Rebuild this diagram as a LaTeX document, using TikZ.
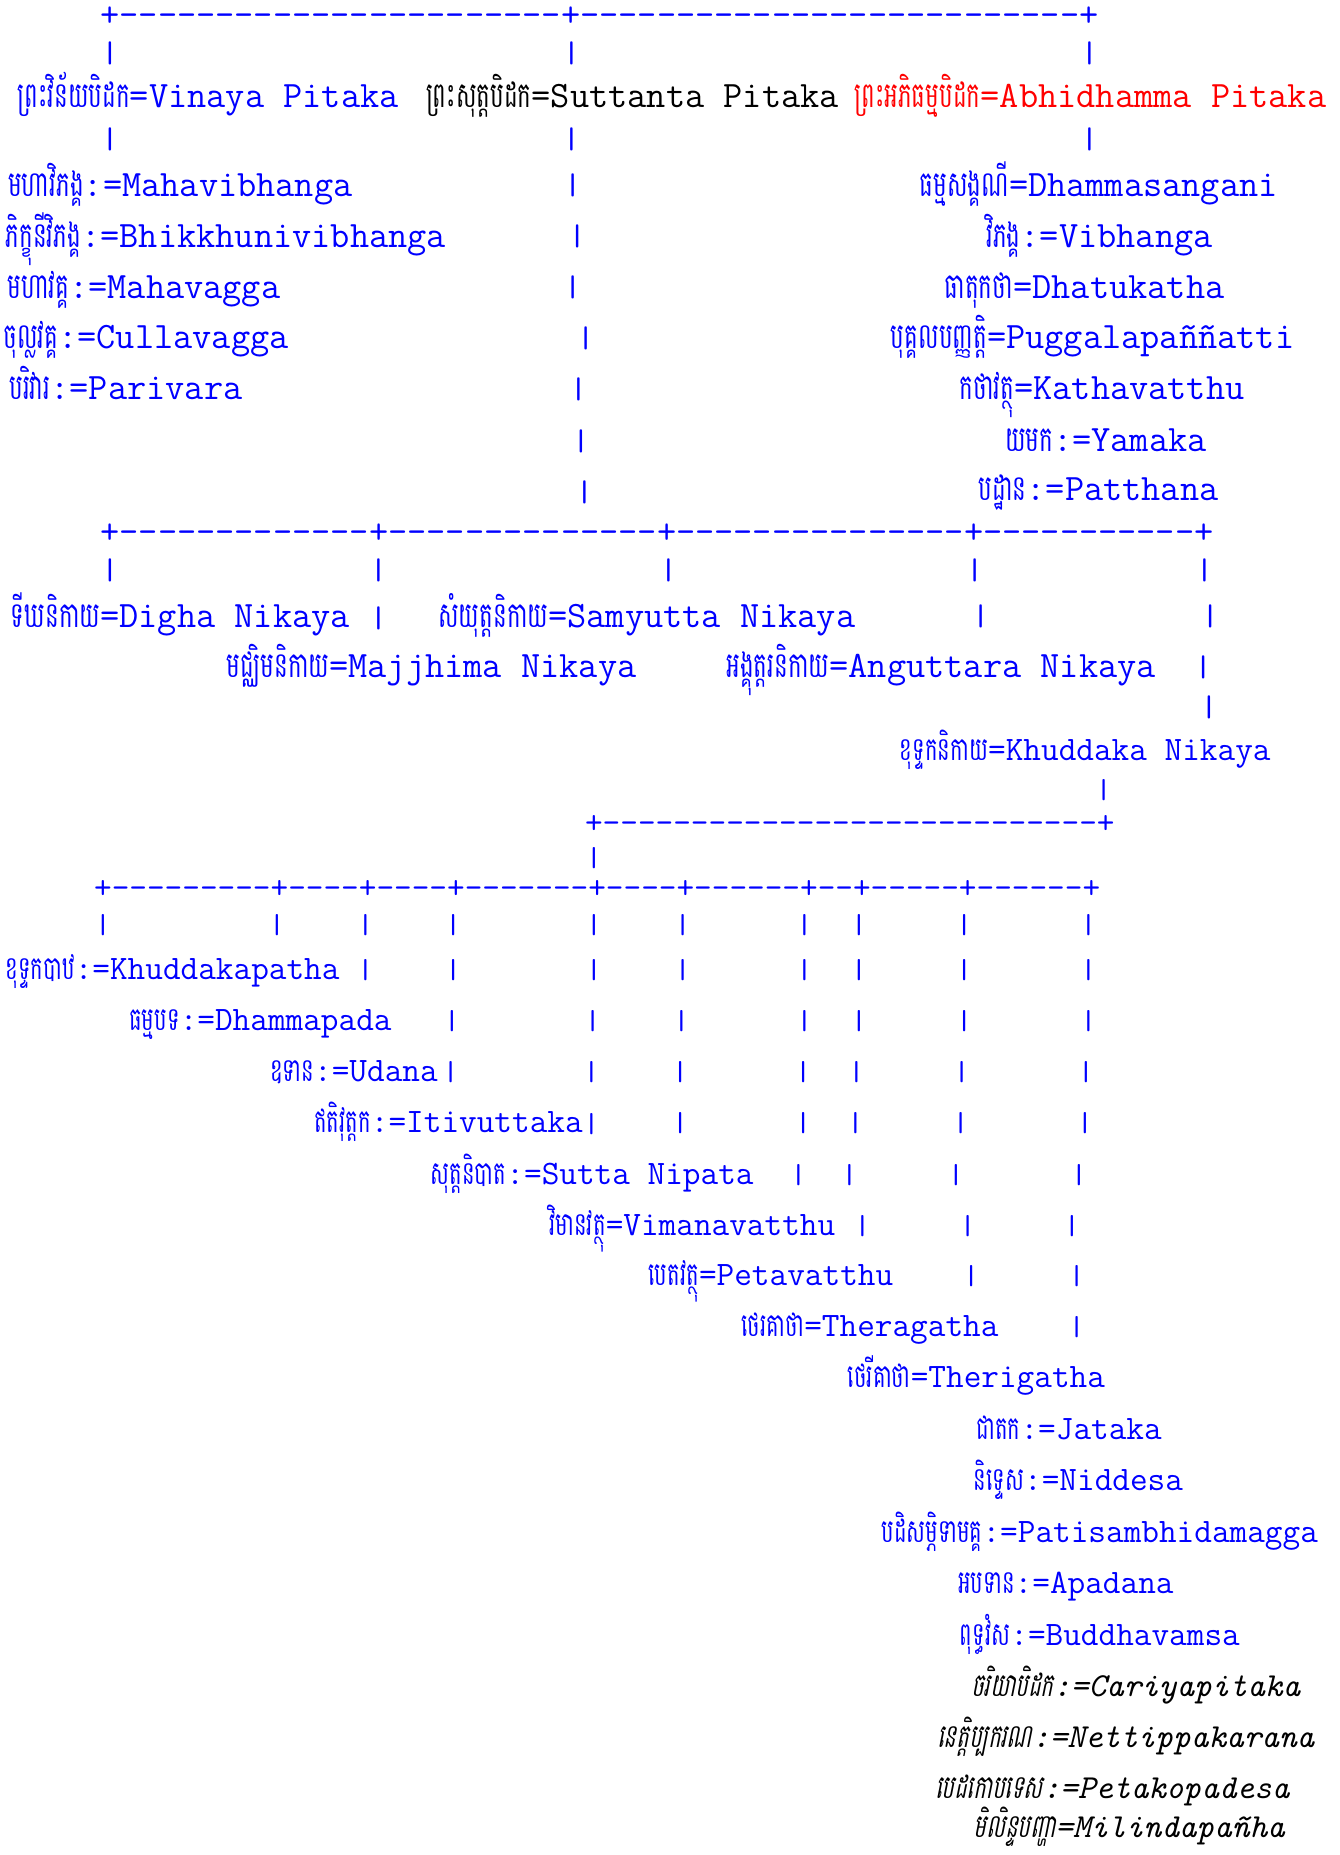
\documentclass[tikz,border=0pt]{standalone}
\usepackage{fontspec}
\usepackage{graphicx}
\newfontfamily\km[Script=Khmer,FakeStretch=0.65]{Battambang}
\newfontfamily\kmi[Script=Khmer,FakeStretch=0.65,FakeSlant=0.2]{Battambang}
\definecolor{kblue}{RGB}{0,0,255}
\definecolor{kred}{RGB}{255,0,0}
\newcommand\dd[1]{\ifnum#1>0 -\kern0pt\expandafter\dd\expandafter{\the\numexpr#1-1\relax}\fi}
\newcommand\vbar{\scalebox{1}[0.8]{|}}
\tikzset{
  every node/.style={inner sep=0pt,outer sep=0pt},
  lt/.style={font=\fontsize{31.5}{36}\selectfont\ttfamily},
  ls/.style={font=\fontsize{28.97}{34}\selectfont\ttfamily},
  li/.style={font=\fontsize{28.4}{34}\selectfont\ttfamily\itshape},
  kt/.style={font=\fontsize{30}{36}\selectfont\km},
  ks/.style={font=\fontsize{27.5}{34}\selectfont\km},
  ki/.style={font=\fontsize{27.5}{34}\selectfont\kmi},
  bl/.style={text=kblue},
  rd/.style={text=kred},
  bk/.style={text=black},
}
\newcommand\lab[7]{%
  \node[#4,anchor=base east] (#1l) at (#2,#3) {#7};
  \node[#5,anchor=base east] (#1k) at (#1l.base west) {#6};}
\newcommand\vb[4]{\node[#4,anchor=center] (#1) at (#2,#3) {\vbar};}
\begin{document}
\begin{tikzpicture}[x=1pt,y=-1pt]
\fill[white] (0,0) rectangle (1132,1568);
\useasboundingbox (0,0) rectangle (1132,1568);
% ---- top level
\node[lt,bl,anchor=west] (h1) at (84.9,14) {+\dd{23}+\dd{26}+};
\vb{a1}{93}{45}{lt,bl}\vb{a2}{483}{45}{lt,bl}\vb{a3}{921}{45}{lt,bl}
\lab{vin}{337}{91}{lt,bl}{kt,bl}{ព្រះវិន័យបិដក}{=Vinaya Pitaka}
\lab{sut}{709}{91}{lt,bk}{kt,bk}{ព្រះសុត្តបិដក}{=Suttanta Pitaka}
\lab{abh}{1121}{91}{lt,rd}{kt,rd}{ព្រះអភិធម្មបិដក}{=Abhidhamma Pitaka}
\vb{b1}{93}{118}{lt,bl}\vb{b2}{483}{118}{lt,bl}\vb{b3}{921}{118}{lt,bl}
% ---- Vinaya / Abhidhamma lists
\lab{mvb}{298}{166}{lt,bl}{kt,bl}{មហាវិភង្គ}{:=Mahavibhanga}
\vb{c5}{484}{157}{lt,bl}
\lab{dhs}{1080}{166}{lt,bl}{kt,bl}{ធម្មសង្គណី}{=Dhammasangani}
\lab{bvb}{377}{209}{lt,bl}{kt,bl}{ភិក្ខុនីវិភង្គ}{:=Bhikkhunivibhanga}
\vb{c6}{488}{200}{lt,bl}
\lab{vbh}{1025}{209}{lt,bl}{kt,bl}{វិភង្គ}{:=Vibhanga}
\lab{mvg}{237}{252}{lt,bl}{kt,bl}{មហាវគ្គ}{:=Mahavagga}
\vb{c7}{484}{243}{lt,bl}
\lab{dhk}{1035}{252}{lt,bl}{kt,bl}{ធាតុកថា}{=Dhatukatha}
\lab{cvg}{244}{295}{lt,bl}{kt,bl}{ចុល្លវគ្គ}{:=Cullavagga}
\vb{c8}{495}{286}{lt,bl}
\lab{pug}{1094}{295}{lt,bl}{kt,bl}{បុគ្គលបញ្ញត្តិ}{=Puggalapaññatti}
\lab{par}{205}{338}{lt,bl}{kt,bl}{បរិវារ}{:=Parivara}
\vb{c9}{489}{329}{lt,bl}
\lab{kvt}{1052}{338}{lt,bl}{kt,bl}{កថាវត្ថុ}{=Kathavatthu}
\vb{c10}{491}{373}{lt,bl}
\lab{yam}{1020}{382}{lt,bl}{kt,bl}{យមក}{:=Yamaka}
\vb{c11}{494}{416}{lt,bl}
\lab{pat}{1030}{423}{lt,bl}{kt,bl}{បដ្ឋាន}{:=Patthana}
% ---- Nikayas
\node[lt,bl,anchor=west] (h2) at (84.9,451) {+\dd{13}+\dd{14}+\dd{15}+\dd{11}+};
\vb{d1}{93}{482}{lt,bl}\vb{d2}{320}{482}{lt,bl}\vb{d3}{565}{482}{lt,bl}\vb{d4}{824}{482}{lt,bl}\vb{d5}{1018}{482}{lt,bl}
\lab{dig}{328.1}{530}{lt,bl}{kt,bl}{ទីឃនិកាយ}{=Digha Nikaya \vbar}
\lab{sam}{723}{530}{lt,bl}{kt,bl}{សំយុត្តនិកាយ}{=Samyutta Nikaya}
\vb{e1}{829}{521}{lt,bl}\vb{e2}{1023}{521}{lt,bl}
\lab{maj}{538}{573}{lt,bl}{kt,bl}{មជ្ឈិមនិកាយ}{=Majjhima Nikaya}
\lab{ang}{977}{573}{lt,bl}{kt,bl}{អង្គុត្តរនិកាយ}{=Anguttara Nikaya}
\vb{f1}{1017}{564}{lt,bl}
\vb{g1}{1022}{598}{lt,bl}
\lab{khn}{1074}{643}{ls,bl}{ks,bl}{ខុទ្ទកនិកាយ}{=Khuddaka Nikaya}
\vb{i1}{933}{668}{ls,bl}
\node[ls,bl,anchor=west] (h3) at (494.55,697) {+\dd{28}+};
\vb{j1}{502}{725}{ls,bl}
\node[ls,bl,anchor=west] (h4) at (79.55,752) {+\dd{9}+\dd{4}+\dd{4}+\dd{7}+\dd{4}+\dd{6}+\dd{2}+\dd{5}+\dd{6}+};
% ---- Khuddaka books
\foreach \x [count=\i] in {87,234,309,383,502,577,680,726,815,920}{\vb{k\i}{\x}{782}{ls,bl}}
\lab{khp}{287}{828}{ls,bl}{ks,bl}{ខុទ្ទកបាឋ}{:=Khuddakapatha}
\foreach \x [count=\i] in {309,383,502,577,680,726,815,920}{\vb{l\i}{\x}{820}{ls,bl}}
\lab{dhp}{331}{871}{ls,bl}{ks,bl}{ធម្មបទ}{:=Dhammapada}
\foreach \x [count=\i] in {382,501,576,680,726,815,920}{\vb{m\i}{\x}{863}{ls,bl}}
\lab{uda}{370}{914}{ls,bl}{ks,bl}{ឧទាន}{:=Udana}
\foreach \x [count=\i] in {381,500,575,679,724,813,918}{\vb{n\i}{\x}{906}{ls,bl}}
\lab{iti}{507.5}{957}{ls,bl}{ks,bl}{ឥតិវុត្តក}{:=Itivuttaka\vbar}
\foreach \x [count=\i] in {575,679,723,812,917}{\vb{o\i}{\x}{949}{ls,bl}}
\lab{snp}{637}{1001}{ls,bl}{ks,bl}{សុត្តនិបាត}{:=Sutta Nipata}
\foreach \x [count=\i] in {675,718,808,912}{\vb{p\i}{\x}{993}{ls,bl}}
\lab{vim}{706}{1044}{ls,bl}{ks,bl}{វិមានវត្ថុ}{=Vimanavatthu}
\foreach \x [count=\i] in {729,818,906}{\vb{q\i}{\x}{1036}{ls,bl}}
\lab{pet}{755}{1087}{ls,bl}{ks,bl}{បេតវត្ថុ}{=Petavatthu}
\foreach \x [count=\i] in {821,910}{\vb{r\i}{\x}{1079}{ls,bl}}
\lab{thg}{844}{1130}{ls,bl}{ks,bl}{ថេរគាថា}{=Theragatha}
\vb{s1}{910}{1122}{ls,bl}
\lab{tig}{934}{1173}{ls,bl}{ks,bl}{ថេរីគាថា}{=Therigatha}
\lab{jat}{982}{1217}{ls,bl}{ks,bl}{ជាតក}{:=Jataka}
\lab{nid}{1000}{1260}{ls,bl}{ks,bl}{និទ្ទេស}{:=Niddesa}
\lab{pts}{1114}{1304}{ls,bl}{ks,bl}{បដិសម្ភិទាមគ្គ}{:=Patisambhidamagga}
\lab{apa}{992}{1347}{ls,bl}{ks,bl}{អបទាន}{:=Apadana}
\lab{bud}{1048}{1391}{ls,bl}{ks,bl}{ពុទ្ធវំស}{:=Buddhavamsa}
\lab{car}{1099}{1434}{li,bk}{ki,bk}{ចរិយាបិដក}{:=Cariyapitaka}
\lab{net}{1111}{1477}{li,bk}{ki,bk}{នេត្តិប្បករណ}{:=Nettippakarana}
\lab{pko}{1090}{1520}{li,bk}{ki,bk}{បេដកោបទេស}{:=Petakopadesa}
\lab{mil}{1086}{1553}{li,bk}{ki,bk}{មិលិន្ទបញ្ហា}{=Milindapañha}
\end{tikzpicture}
\end{document}
